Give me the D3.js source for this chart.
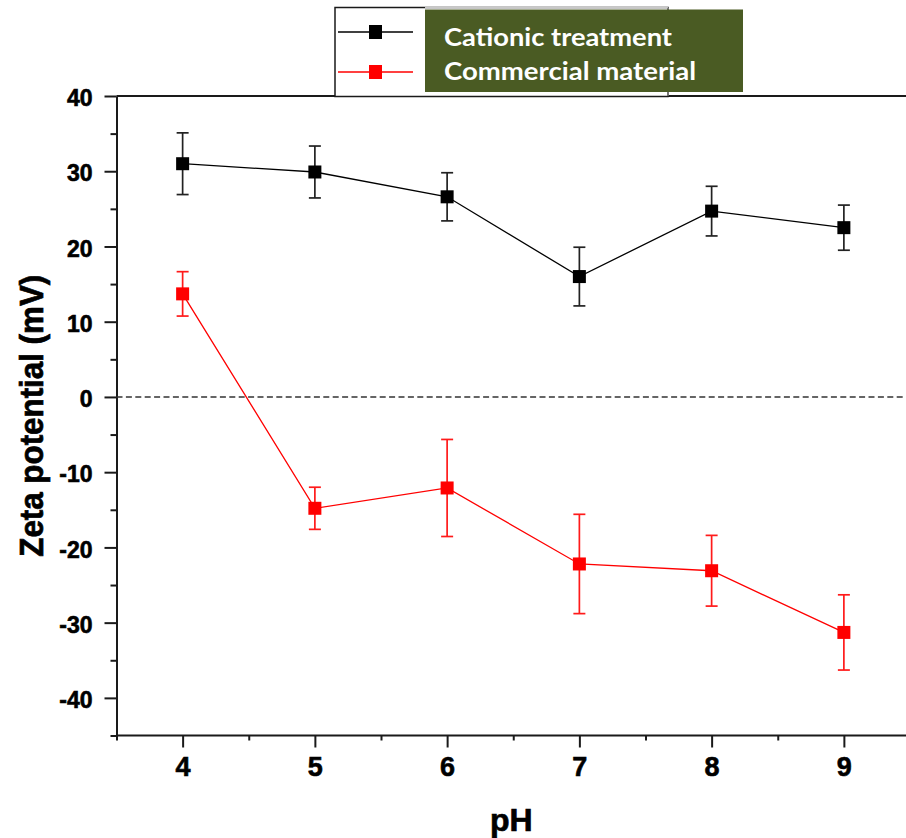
<!DOCTYPE html>
<html>
<head>
<meta charset="utf-8">
<script src="https://cdn.jsdelivr.net/npm/d3@7"></script>
<style>
  body { margin: 0; background: #fff; }
  svg { display: block; }
  .axis text { font-family: "Liberation Sans", Arial, sans-serif; font-weight: bold; fill: #000; stroke: #000; stroke-width: 0.6; }
  .axis path, .axis line { stroke: #1a1a1a; stroke-width: 2; }
  .title { stroke: #000; stroke-width: 0.7; }
</style>
</head>
<body>
<svg id="chart" width="906" height="838"></svg>
<script>
// values
const phValues = [4, 5, 6, 7, 8, 9];
const cationic = [31.0, 29.9, 26.6, 16.0, 24.7, 22.5];
const cationicErr = [4.1, 3.45, 3.2, 3.9, 3.3, 3.0];
const commercial = [13.7, -14.8, -12.1, -22.2, -23.1, -31.3];
const commercialErr = [2.95, 2.8, 6.45, 6.6, 4.7, 5.0];
const seriesNames = ["Cationic treatment", "Commercial material"];
const yTicks = [-40, -30, -20, -10, 0, 10, 20, 30, 40];
const yMinor = [-45, -35, -25, -15, -5, 5, 15, 25, 35];
const xMinor = [3.5, 4.5, 5.5, 6.5, 7.5, 8.5];

const svg = d3.select('#chart');
const x = d3.scaleLinear().domain([3.5, 9.5]).range([116.5, 910]);
const y = d3.scaleLinear().domain([-45, 40]).range([735.5, 96]);

const series = [
    {name: seriesNames[0], vals: cationic, err: cationicErr, color: '#000', barColor: '#222'},
    {name: seriesNames[1], vals: commercial, err: commercialErr, color: '#ff0000', barColor: '#ff1a1a'}
];

// top frame line
svg.append('line')
    .attr('x1', x(3.5)).attr('x2', 906)
    .attr('y1', y(40)).attr('y2', y(40))
    .attr('stroke', '#1a1a1a').attr('stroke-width', 2);

// minor ticks
svg.append('g').attr('class', 'axis')
    .attr('transform', `translate(${x(3.5)},0)`)
    .call(d3.axisLeft(y).tickValues(yMinor).tickSize(6).tickFormat(''))
    .call(g => g.select('.domain').remove());
svg.append('g').attr('class', 'axis')
    .attr('transform', `translate(0,${y(-45)})`)
    .call(d3.axisBottom(x).tickValues(xMinor).tickSize(5).tickFormat(''))
    .call(g => g.select('.domain').remove());

// y axis
svg.append('g').attr('class', 'axis')
    .attr('transform', `translate(${x(3.5)},0)`)
    .call(d3.axisLeft(y).tickValues(yTicks).tickSize(12).tickPadding(12).tickSizeOuter(0).tickFormat(d => String(d)))
    .call(g => g.selectAll('text').attr('font-size', 23).attr('dy', '0.42em'));

// x axis
svg.append('g').attr('class', 'axis')
    .attr('transform', `translate(0,${y(-45)})`)
    .call(d3.axisBottom(x).tickValues(phValues).tickSize(12).tickPadding(9).tickSizeOuter(0).tickFormat(d => String(d)))
    .call(g => g.select('.domain').attr('d', `M${x(3.5)},0H906`))
    .call(g => g.selectAll('text').attr('font-size', 27));

// zero line
svg.append('line')
    .attr('x1', x(3.5)).attr('x2', 906)
    .attr('y1', y(0)).attr('y2', y(0))
    .attr('stroke', '#333').attr('stroke-width', 1.6)
    .attr('stroke-dasharray', '6,3.4');

// axis titles
svg.append('text').attr('class', 'title')
    .attr('x', (x(3.5) + 906) / 2).attr('y', 831)
    .attr('text-anchor', 'middle')
    .attr('font-family', '"Liberation Sans", Arial, sans-serif')
    .attr('font-weight', 'bold').attr('font-size', 32)
    .text('pH');

svg.append('text').attr('class', 'title')
    .attr('transform', `translate(43,${(y(40) + y(-45)) / 2}) rotate(-90)`)
    .attr('text-anchor', 'middle')
    .attr('font-family', '"Liberation Sans", Arial, sans-serif')
    .attr('font-weight', 'bold').attr('font-size', 34)
    .attr('textLength', 282).attr('lengthAdjust', 'spacingAndGlyphs')
    .text('Zeta potential (mV)');

// series
const line = d3.line().x((d, i) => x(phValues[i])).y(d => y(d));
series.forEach(s => {
    const g = svg.append('g');
    g.append('path')
        .datum(s.vals)
        .attr('d', line)
        .attr('fill', 'none')
        .attr('stroke', s.color).attr('stroke-width', 1.3);

    const bars = g.selectAll('.err').data(s.vals).join('g');
    bars.append('line')
        .attr('x1', (d, i) => x(phValues[i])).attr('x2', (d, i) => x(phValues[i]))
        .attr('y1', (d, i) => y(d + s.err[i])).attr('y2', (d, i) => y(d - s.err[i]))
        .attr('stroke', s.barColor).attr('stroke-width', 1.7);
    [1, -1].forEach(sign => {
        bars.append('line')
            .attr('x1', (d, i) => x(phValues[i]) - 6).attr('x2', (d, i) => x(phValues[i]) + 6)
            .attr('y1', (d, i) => y(d + sign * s.err[i])).attr('y2', (d, i) => y(d + sign * s.err[i]))
            .attr('stroke', s.barColor).attr('stroke-width', 1.7);
    });

    g.selectAll('.mk').data(s.vals).join('rect')
        .attr('x', (d, i) => x(phValues[i]) - 6.5)
        .attr('y', d => y(d) - 6.5)
        .attr('width', 13).attr('height', 13)
        .attr('fill', s.color);
});

// legend
const leg = svg.append('g');
leg.append('rect')
    .attr('x', 335).attr('y', 7.5).attr('width', 333).attr('height', 89)
    .attr('fill', '#fff').attr('stroke', '#1a1a1a').attr('stroke-width', 1.5);
leg.append('line')
    .attr('x1', 425).attr('x2', 668).attr('y1', 7.5).attr('y2', 7.5)
    .attr('stroke', '#c8c8c8').attr('stroke-width', 1.5);
leg.append('line')
    .attr('x1', 668).attr('x2', 668).attr('y1', 7.5).attr('y2', 96)
    .attr('stroke', '#999').attr('stroke-width', 1);
series.forEach((s, i) => {
    const ly = i === 0 ? 32 : 72;
    leg.append('line')
        .attr('x1', 338).attr('x2', 413).attr('y1', ly).attr('y2', ly)
        .attr('stroke', s.color).attr('stroke-width', 1.5);
    leg.append('rect')
        .attr('x', 369).attr('y', ly - 7).attr('width', 13).attr('height', 14)
        .attr('fill', s.color);
});
leg.append('rect')
    .attr('x', 425).attr('y', 9.5).attr('width', 318).attr('height', 82.5)
    .attr('fill', '#4a5b23');
seriesNames.forEach((n, i) => {
    leg.append('text')
        .attr('x', 444).attr('y', i === 0 ? 46 : 80)
        .attr('font-family', 'Lato, "Open Sans", sans-serif')
        .attr('font-weight', 'bold').attr('font-size', 25)
        .attr('fill', '#fff')
        .attr('textLength', i === 0 ? 228 : 252).attr('lengthAdjust', 'spacingAndGlyphs')
        .text(n);
});
</script>
</body>
</html>
